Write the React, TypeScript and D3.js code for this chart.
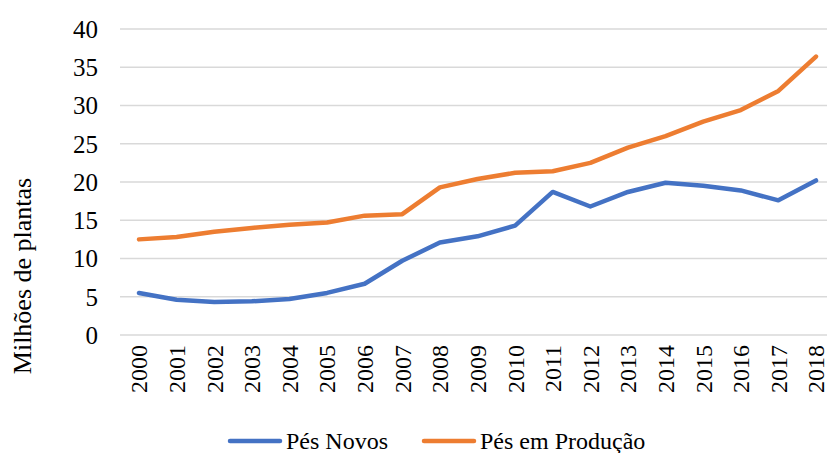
import * as d3 from "d3";
import { useEffect, useRef } from "react";

const years = ["2000", "2001", "2002", "2003", "2004", "2005", "2006", "2007", "2008", "2009",
    "2010", "2011", "2012", "2013", "2014", "2015", "2016", "2017", "2018"];
const pesNovos = [5.5, 4.6, 4.3, 4.4, 4.7, 5.5, 6.7, 9.7, 12.1, 12.9, 14.3, 18.7, 16.8, 18.7, 19.9, 19.5, 18.9, 17.6, 20.2];
const pesProducao = [12.5, 12.8, 13.5, 14.0, 14.4, 14.7, 15.6, 15.8, 19.3, 20.4, 21.2, 21.4, 22.5, 24.5, 26.0, 27.9, 29.4, 31.9, 36.4];
const yTicks = [0, 5, 10, 15, 20, 25, 30, 35, 40];
const seriesNames = ["Pés Novos", "Pés em Produção"];
const colors = ["#4472C4", "#ED7D31"];

const W = 827;
const H = 453;
const FONT = '"Liberation Serif", "Times New Roman", serif';

export default function App() {
    const ref = useRef<SVGSVGElement>(null);

    useEffect(() => {
        const svg = d3.select(ref.current);
        svg.selectAll("*").remove();

        // x: point scale, first/last year centred at their ticks
        const x = d3.scalePoint<string>().domain(years).range([139, 816]);
        const y = d3.scaleLinear().domain([0, 40]).range([335, 29]);

        // gridlines
        svg.append("g")
            .selectAll("line")
            .data(yTicks)
            .enter()
            .append("line")
            .attr("x1", 120)
            .attr("x2", W)
            .attr("y1", (d) => y(d))
            .attr("y2", (d) => y(d))
            .attr("stroke", "#d9d9d9")
            .attr("stroke-width", 1.5);

        // y tick labels
        svg.append("g")
            .selectAll("text")
            .data(yTicks)
            .enter()
            .append("text")
            .attr("x", 98)
            .attr("y", (d) => y(d))
            .attr("dy", "0.35em")
            .attr("text-anchor", "end")
            .style("font-family", FONT)
            .style("font-size", "25px")
            .attr("fill", "#000")
            .text((d) => d);

        // x tick labels (rotated)
        svg.append("g")
            .selectAll("text")
            .data(years)
            .enter()
            .append("text")
            .attr("transform", (d) => `translate(${x(d)},345) rotate(-90)`)
            .attr("dy", "0.35em")
            .attr("text-anchor", "end")
            .style("font-family", FONT)
            .style("font-size", "24px")
            .attr("fill", "#000")
            .text((d) => d);

        // y axis title
        svg.append("text")
            .attr("transform", "translate(22,276) rotate(-90)")
            .attr("dy", "0.35em")
            .attr("text-anchor", "middle")
            .style("font-family", FONT)
            .style("font-size", "26px")
            .attr("fill", "#000")
            .text("Milhões de plantas");

        // lines
        const line = d3.line<number>()
            .x((d, i) => x(years[i]) as number)
            .y((d) => y(d));

        [pesNovos, pesProducao].forEach((vals, k) => {
            svg.append("path")
                .datum(vals)
                .attr("d", line)
                .attr("fill", "none")
                .attr("stroke", colors[k])
                .attr("stroke-width", 4.5)
                .attr("stroke-linejoin", "round")
                .attr("stroke-linecap", "round");
        });

        // legend
        const legendX = [228, 422];
        const legend = svg.append("g");
        seriesNames.forEach((name, k) => {
            legend.append("line")
                .attr("x1", legendX[k] + 2)
                .attr("x2", legendX[k] + 52)
                .attr("y1", 441)
                .attr("y2", 441)
                .attr("stroke", colors[k])
                .attr("stroke-width", 4.5)
                .attr("stroke-linecap", "round");
            legend.append("text")
                .attr("x", legendX[k] + 58)
                .attr("y", 441)
                .attr("dy", "0.35em")
                .style("font-family", FONT)
                .style("font-size", "24px")
                .attr("fill", "#000")
                .text(name);
        });
    }, []);

    return (
        <svg
            ref={ref}
            width={W}
            height={H}
            style={{ position: "absolute", left: 0, top: 0, background: "#fff" }}
        />
    );
}
